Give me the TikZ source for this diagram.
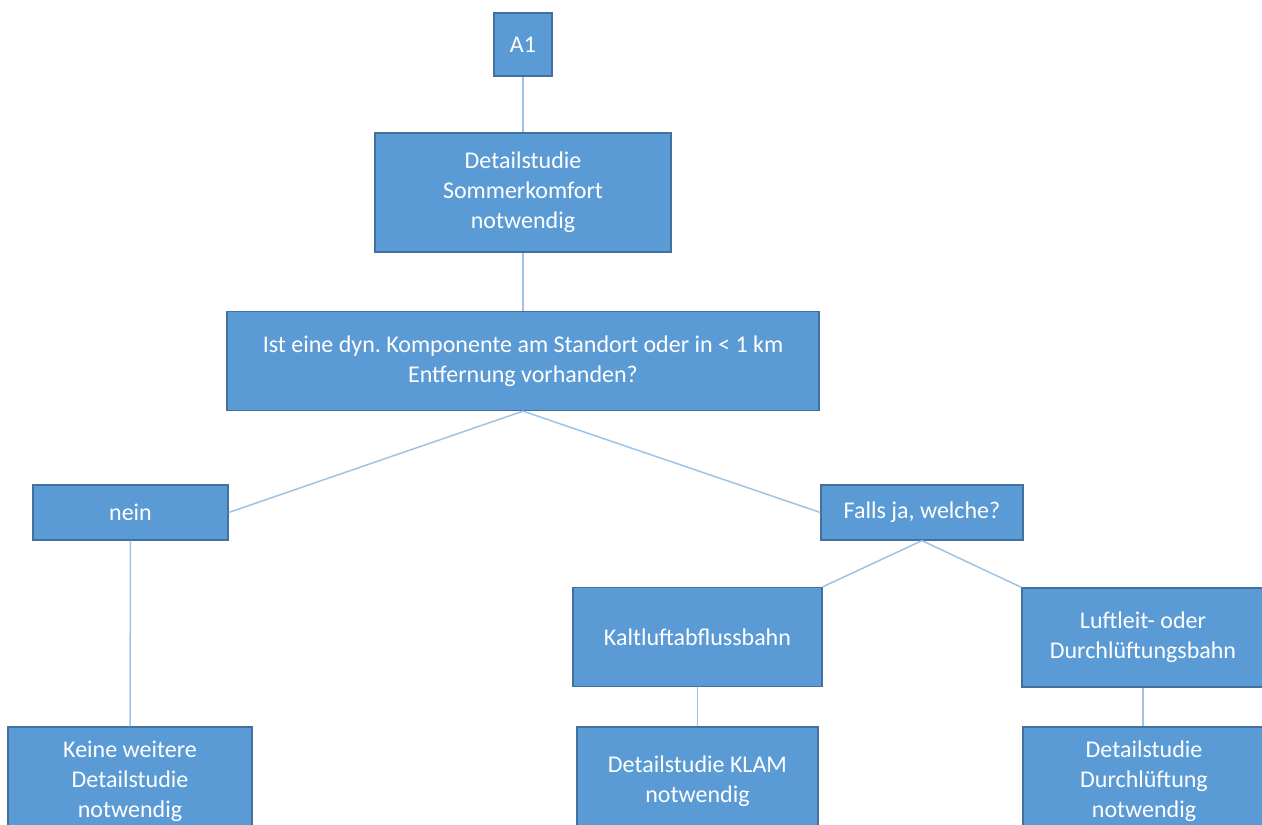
\documentclass[tikz,border=0pt]{standalone}
\usepackage{fontspec}
\setmainfont{Carlito}
\frenchspacing
\definecolor{boxfill}{HTML}{5B9BD5}
\definecolor{boxedge}{HTML}{41719C}
\definecolor{linkcol}{HTML}{9DC3E6}
\begin{document}
\begin{tikzpicture}[x=1pt,y=-1pt,
  box/.style={rectangle, draw=boxedge, line width=1.3pt, fill=boxfill,
    text=white, align=center, inner sep=0pt,
    font=\fontsize{24}{30}\selectfont},
  link/.style={draw=linkcol, line width=1.5pt}]
\useasboundingbox (0,0) rectangle (1262,825);
% top of the tree
\node[box, minimum width=58pt, minimum height=63pt] (a1) at (523,44.5) {A1};
\node[box, minimum width=296pt, minimum height=119pt] (som) at (523,192.5)
  {Detailstudie\\Sommerkomfort\\notwendig};
\node[box, minimum width=592pt, minimum height=99pt] (frage) at (523,361)
  {Ist eine dyn. Komponente am Standort oder in < 1 km\\Entfernung vorhanden?};
% answers
\node[box, minimum width=195pt, minimum height=55pt] (nein) at (130.5,512.5) {nein};
\node[box, minimum width=202pt, minimum height=55pt] (ja) at (922,512.5) {Falls ja, welche?};
\node[box, minimum width=249pt, minimum height=99pt] (kalt) at (697.5,637)
  {Kaltluftabflussbahn};
\node[box, minimum width=242pt, minimum height=99pt] (luft) at (1143,637.5)
  {Luftleit- oder\\Durchlüftungsbahn};
% results
\node[box, minimum width=244pt, minimum height=108pt] (keine) at (130,781)
  {Keine weitere\\Detailstudie\\notwendig};
\node[box, minimum width=241pt, minimum height=108pt] (klam) at (697.5,781)
  {Detailstudie KLAM\\notwendig};
\node[box, minimum width=242pt, minimum height=108pt] (durch) at (1144,781)
  {Detailstudie\\Durchlüftung\\notwendig};
% connectors
\draw[link] (a1.south) -- (som.north);
\draw[link] (som.south) -- (frage.north);
\draw[link] (frage.south) -- (nein.east);
\draw[link] (frage.south) -- (ja.west);
\draw[link] (ja.south) -- (kalt.north east);
\draw[link] (ja.south) -- (luft.north west);
\draw[link] (nein.south) -- (keine.north);
\draw[link] (kalt.south) -- (klam.north);
\draw[link] (luft.south) -- (luft.south |- durch.north);
\end{tikzpicture}
\end{document}
